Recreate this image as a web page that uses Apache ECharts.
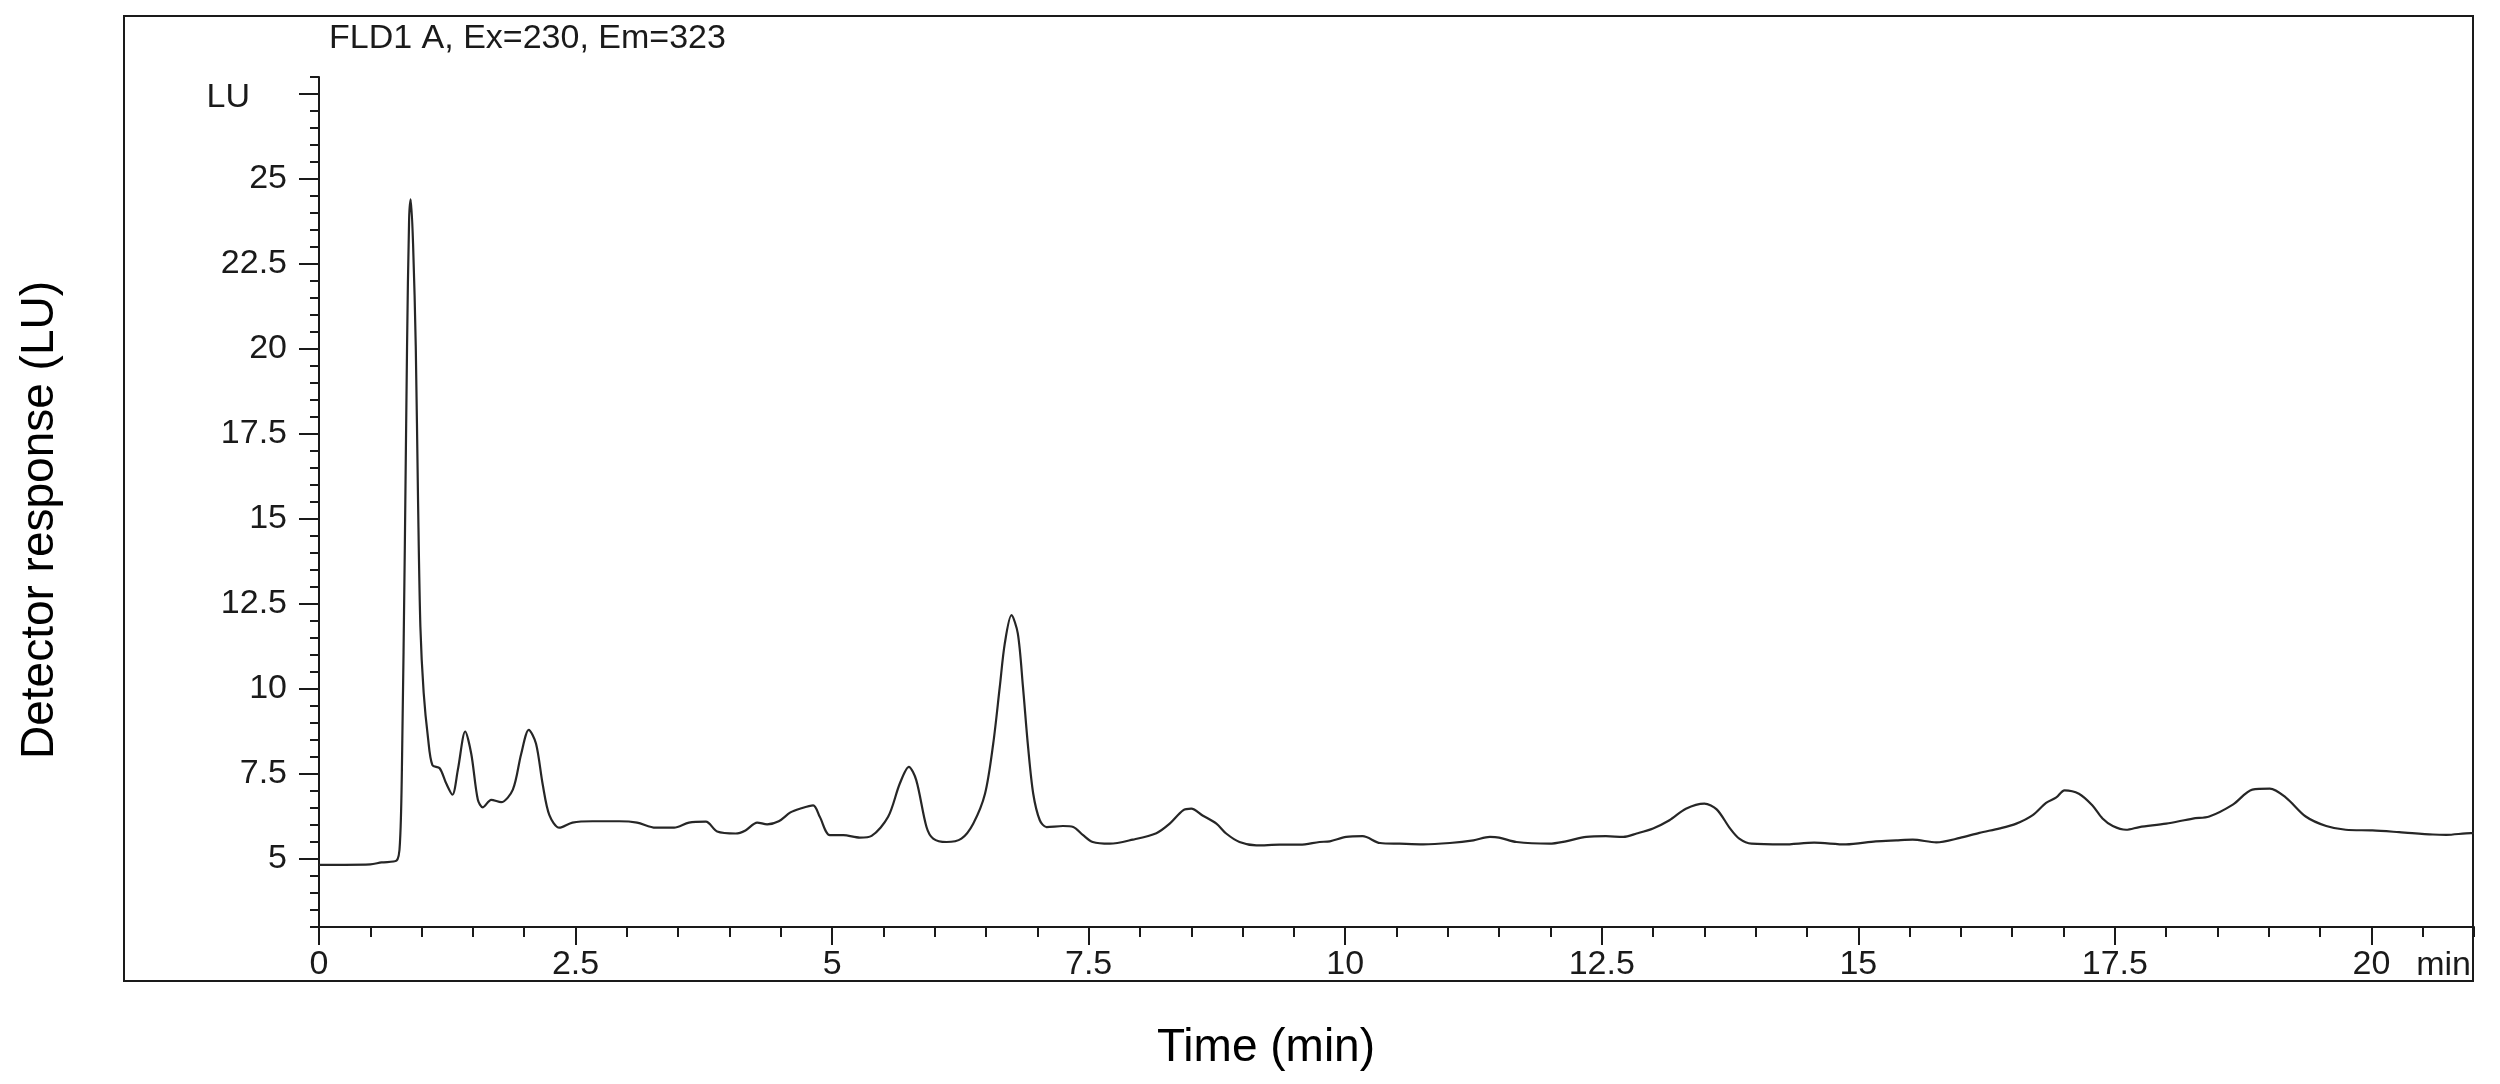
<!DOCTYPE html>
<html>
<head>
<meta charset="utf-8">
<title>FLD1 A chromatogram</title>
<script src="https://cdn.jsdelivr.net/npm/echarts@6/dist/echarts.min.js"></script>
<style>
  html, body { margin: 0; padding: 0; background: #ffffff; }
  #chart { width: 2500px; height: 1084px; }
</style>
</head>
<body>
<div id="chart"></div>
<script>
// retention time (min) and detector signal (LU)
const timeMin = [
  0.00, 0.25, 0.50, 0.61, 0.755, 0.79, 0.81, 0.836, 0.858, 0.878, 0.894, 0.917, 0.943, 0.965, 0.988,
  1.02, 1.063, 1.105, 1.176, 1.24, 1.30, 1.354, 1.425, 1.484, 1.548, 1.597, 1.678, 1.775, 1.889, 1.97,
  2.044, 2.115, 2.18, 2.245, 2.342, 2.47, 2.666, 2.925, 3.10, 3.28, 3.46, 3.605, 3.77, 3.88, 4.06,
  4.156, 4.27, 4.367, 4.48, 4.594, 4.686, 4.816, 4.88, 4.978, 5.11, 5.27, 5.385, 5.546, 5.66, 5.748,
  5.82, 5.92, 5.985, 6.115, 6.26, 6.375, 6.49, 6.57, 6.634, 6.683, 6.748, 6.81, 6.86, 6.91, 6.96,
  7.024, 7.09, 7.25, 7.35, 7.446, 7.54, 7.706, 7.93, 8.16, 8.29, 8.42, 8.50, 8.61, 8.745, 8.84,
  8.97, 9.135, 9.36, 9.56, 9.75, 9.85, 10.01, 10.17, 10.34, 10.53, 10.76, 11.02, 11.25, 11.41, 11.50,
  11.67, 11.99, 12.15, 12.35, 12.54, 12.71, 12.84, 13.00, 13.16, 13.32, 13.50, 13.62, 13.75, 13.84, 13.96,
  14.27, 14.57, 14.88, 15.17, 15.37, 15.53, 15.76, 15.99, 16.18, 16.38, 16.54, 16.70, 16.83, 16.93, 17.01,
  17.15, 17.28, 17.38, 17.48, 17.61, 17.74, 18.00, 18.26, 18.42, 18.65, 18.84, 19.01, 19.17, 19.36, 19.56,
  19.75, 20.01, 20.27, 20.60, 20.73, 20.97, 21.00
]
const signalLU = [
  4.83, 4.83, 4.84, 4.90, 4.95, 5.55, 8.09, 14.08, 20.07, 23.80, 24.40, 23.06, 20.07, 15.57, 11.83,
  9.89, 8.54, 7.76, 7.67, 7.22, 6.89, 7.64, 8.75, 8.09, 6.74, 6.52, 6.74, 6.67, 7.04, 8.09,
  8.80, 8.39, 7.19, 6.29, 5.92, 6.07, 6.11, 6.11, 6.07, 5.92, 5.92, 6.07, 6.10, 5.81, 5.75,
  5.84, 6.07, 6.02, 6.11, 6.37, 6.48, 6.58, 6.24, 5.70, 5.70, 5.63, 5.68, 6.24, 7.22, 7.71,
  7.32, 5.94, 5.60, 5.50, 5.60, 6.04, 6.92, 8.39, 10.06, 11.34, 12.17, 11.63, 10.06, 8.29, 6.92,
  6.14, 5.94, 5.97, 5.94, 5.70, 5.50, 5.45, 5.57, 5.76, 6.04, 6.43, 6.48, 6.28, 6.04, 5.75,
  5.50, 5.40, 5.42, 5.42, 5.50, 5.52, 5.65, 5.67, 5.47, 5.45, 5.43, 5.47, 5.55, 5.65, 5.63,
  5.50, 5.45, 5.52, 5.65, 5.67, 5.65, 5.75, 5.90, 6.14, 6.48, 6.63, 6.46, 5.90, 5.60, 5.45,
  5.43, 5.48, 5.43, 5.52, 5.55, 5.57, 5.49, 5.62, 5.77, 5.90, 6.04, 6.29, 6.65, 6.81, 7.02,
  6.92, 6.58, 6.19, 5.97, 5.86, 5.94, 6.04, 6.19, 6.25, 6.60, 7.04, 7.07, 6.80, 6.25, 5.97,
  5.86, 5.84, 5.79, 5.72, 5.71, 5.76, 5.76
]

// labelled ticks
const xTicks = [0, 2.5, 5, 7.5, 10, 12.5, 15, 17.5, 20]
const yTicks = [5, 7.5, 10, 12.5, 15, 17.5, 20, 22.5, 25, 27.5]
const yLabelled = [5, 7.5, 10, 12.5, 15, 17.5, 20, 22.5, 25]

const FONT = 'Liberation Sans, Arial, sans-serif'
const INK = '#1a1a1a'

const chart = echarts.init(document.getElementById('chart'))

const minorAxis = {
  axisLine: { show: true, lineStyle: { color: INK, width: 2 } },
  axisLabel: { show: false },
  splitLine: { show: false }
}

chart.setOption({
  backgroundColor: '#ffffff',
  animation: false,
  grid: { left: 319, right: 26, top: 77, bottom: 157, containLabel: false },
  xAxis: [
    // every 0.5 min, short ticks
    Object.assign({
      type: 'value', position: 'bottom', min: 0, max: 21, interval: 0.5,
      axisTick: { show: true, length: 10, lineStyle: { color: INK, width: 2 } }
    }, minorAxis),
    // labelled ticks every 2.5 min
    {
      type: 'value', position: 'bottom', min: 0, max: 21,
      axisLine: { show: false },
      splitLine: { show: false },
      axisTick: { show: true, length: 18, customValues: xTicks, lineStyle: { color: INK, width: 2 } },
      axisLabel: {
        show: true, customValues: xTicks, margin: 21,
        fontFamily: FONT, fontSize: 34, color: INK
      }
    }
  ],
  yAxis: [
    Object.assign({
      type: 'value', position: 'left', min: 3, max: 28, interval: 0.5,
      axisTick: { show: true, length: 9, lineStyle: { color: INK, width: 2 } }
    }, minorAxis),
    {
      type: 'value', position: 'left', min: 3, max: 28,
      axisLine: { show: false },
      splitLine: { show: false },
      axisTick: { show: true, length: 20, customValues: yTicks, lineStyle: { color: INK, width: 2 } },
      axisLabel: {
        show: true, customValues: yLabelled, margin: 32,
        fontFamily: FONT, fontSize: 34, color: INK
      }
    }
  ],
  graphic: [
    {
      type: 'rect', silent: true, z: 0,
      shape: { x: 124, y: 16, width: 2349, height: 965 },
      style: { fill: 'none', stroke: INK, lineWidth: 2 }
    },
    {
      type: 'text', x: 329, y: 39,
      style: { text: 'FLD1 A, Ex=230, Em=323', font: '34px ' + FONT, fill: INK, textAlign: 'left', textVerticalAlign: 'middle' }
    },
    {
      type: 'text', x: 250, y: 98,
      style: { text: 'LU', font: '34px ' + FONT, fill: INK, textAlign: 'right', textVerticalAlign: 'middle' }
    },
    {
      type: 'text', x: 2471, y: 966,
      style: { text: 'min', font: '34px ' + FONT, fill: INK, textAlign: 'right', textVerticalAlign: 'middle' }
    },
    {
      type: 'text', x: 1266, y: 1048,
      style: { text: 'Time (min)', font: '46px ' + FONT, fill: '#000', textAlign: 'center', textVerticalAlign: 'middle' }
    },
    {
      type: 'text', x: 40, y: 520, rotation: Math.PI / 2,
      style: { text: 'Detector response (LU)', font: '46px ' + FONT, fill: '#000', textAlign: 'center', textVerticalAlign: 'middle' }
    }
  ],
  series: [
    {
      name: 'FLD1 A',
      type: 'line',
      xAxisIndex: 0,
      yAxisIndex: 0,
      data: timeMin.map((t, i) => [t, signalLU[i]]),
      showSymbol: false,
      smooth: 0.3,
      lineStyle: { color: '#262626', width: 2.2 }
    }
  ]
})
</script>
</body>
</html>
